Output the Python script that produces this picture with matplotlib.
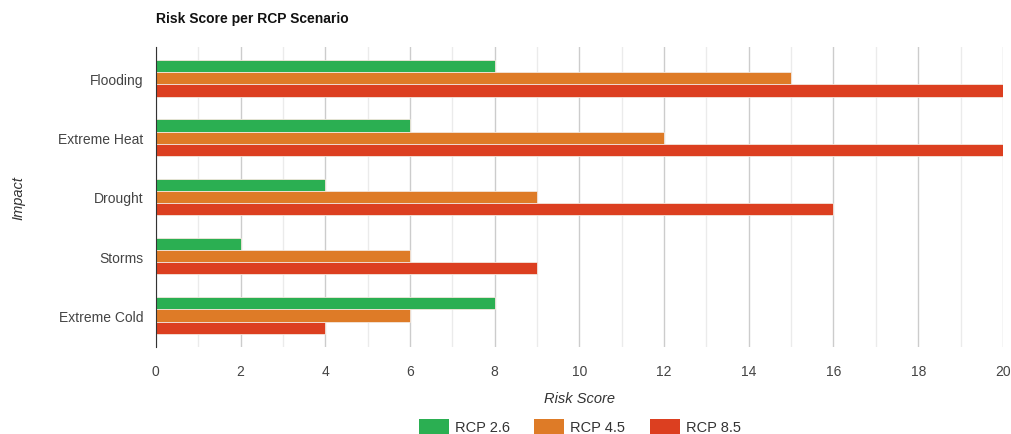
import numpy as np
import matplotlib.pyplot as plt
from matplotlib.patches import Patch

plt.rcParams['font.family'] = ['Liberation Sans', 'DejaVu Sans']

# data
impacts = ["Flooding", "Extreme Heat", "Drought", "Storms", "Extreme Cold"]
series_names = ["RCP 2.6", "RCP 4.5", "RCP 8.5"]
rcp26 = [8, 6, 4, 2, 8]
rcp45 = [15, 12, 9, 6, 6]
rcp85 = [20, 20, 16, 9, 4]
colors = ["#2baf52", "#de7b27", "#dc3f20"]

fig = plt.figure(figsize=(10.12, 4.35), dpi=100)
ax = fig.add_axes([0.154, 0.200, 0.837, 0.690])

y = np.arange(len(impacts))
h = 0.205
for i, (vals, c) in enumerate(zip([rcp26, rcp45, rcp85], colors)):
    ax.barh(y + (i - 1) * h, vals, height=h, color=c, edgecolor="#f3e6dc",
            linewidth=0.6, zorder=3)

ax.set_ylim(len(impacts) - 0.47, -0.53)
ax.set_yticks(y)
ax.set_yticklabels(impacts)
ax.set_xlim(0, 20)
ax.set_xticks(np.arange(0, 21, 2))
ax.set_xticks(np.arange(1, 20, 2), minor=True)
ax.grid(axis="x", which="major", color="#cccccc", linewidth=1, zorder=0)
ax.grid(axis="x", which="minor", color="#ebebeb", linewidth=1, zorder=0)
ax.tick_params(axis="both", which="both", length=0, labelsize=10, labelcolor="#444444")
ax.tick_params(axis="y", pad=9)
ax.tick_params(axis="x", pad=12)

for s in ["top", "right", "bottom"]:
    ax.spines[s].set_visible(False)
ax.spines["left"].set_color("#333333")
ax.spines["left"].set_zorder(4)

ax.set_xlabel("Risk Score", fontsize=10.5, style="italic", color="#333333")
ax.xaxis.set_label_coords(0.5, -0.145)
ax.set_ylabel("Impact", fontsize=10.5, style="italic", color="#333333")
ax.yaxis.set_label_coords(-0.1535, 0.5)

fig.text(0.154, 0.957, "Risk Score per RCP Scenario", fontsize=10, fontweight="bold",
         color="#111111", va="center", ha="left")

handles = [Patch(facecolor=c, label=n) for c, n in zip(colors, series_names)]
fig.legend(handles=handles, loc="center", bbox_to_anchor=(0.573, 0.017), ncol=3,
           frameon=False, fontsize=10.5, handlelength=2.06, handleheight=1.25,
           columnspacing=1.65, handletextpad=0.42, labelcolor="#333333")

fig.savefig("out.png", dpi=100)
